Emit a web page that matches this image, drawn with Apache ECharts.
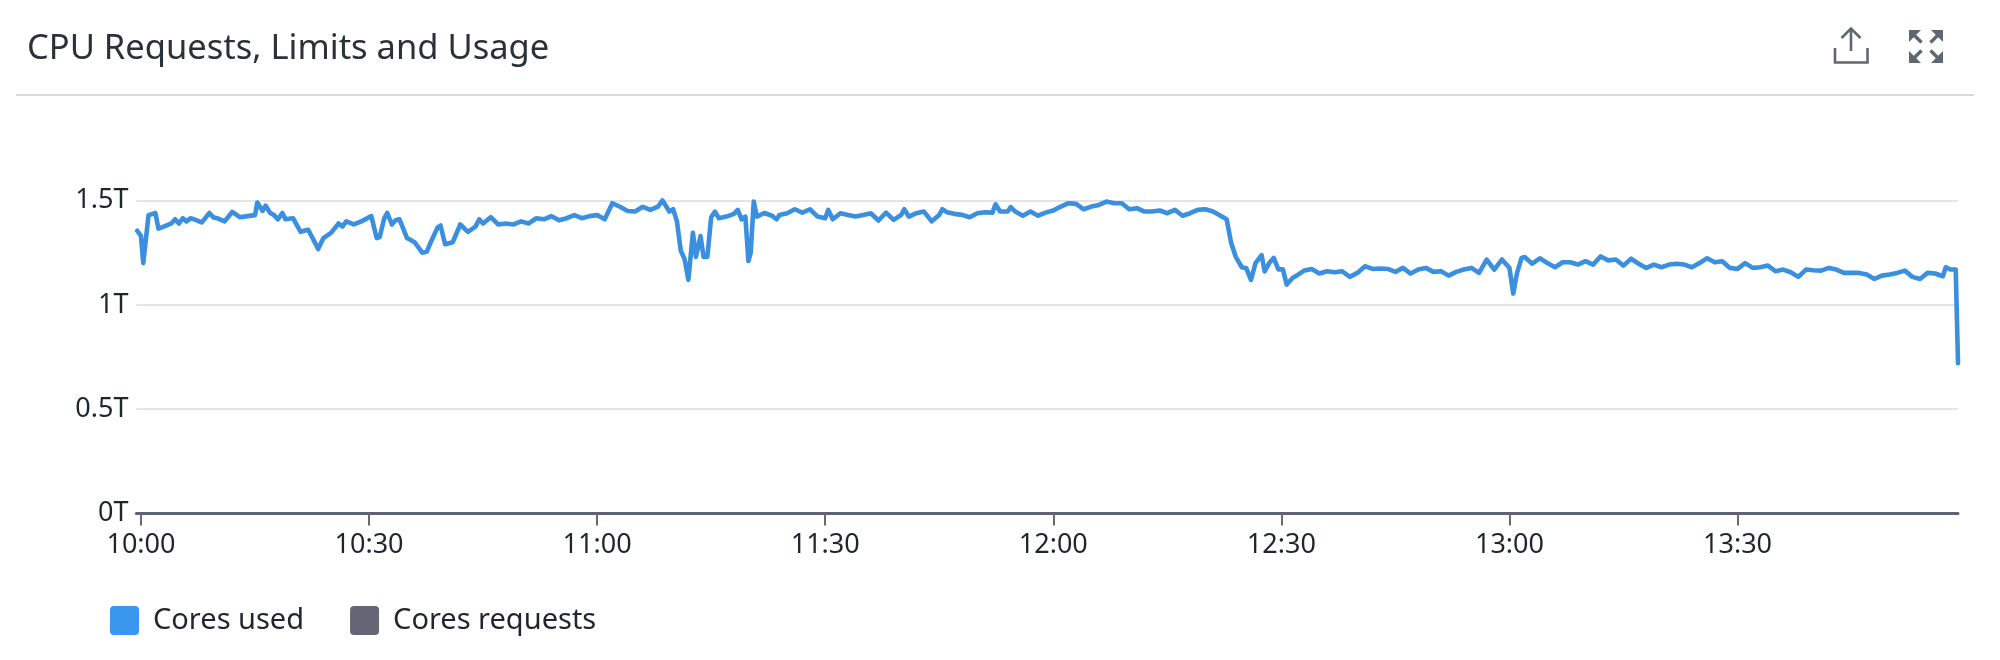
<!DOCTYPE html>
<html><head><meta charset="utf-8">
<style>html,body{margin:0;padding:0;background:#fff}#c{width:2000px;height:660px}</style>
<script src="https://cdn.jsdelivr.net/npm/echarts@6/dist/echarts.min.js"></script>
</head><body><div id="c"></div>
<script>
// [minutes after 10:00, cores used in T]
const coresUsed = [
[-0.5,1.355],[0,1.33],[0.3,1.2],[1,1.43],[1.9,1.44],[2.3,1.365],[3,1.375],[4,1.39],[4.5,1.41],[5,1.39],[5.5,1.415],[6,1.40],[6.5,1.415],[7,1.41],[8,1.395],[9,1.44],[9.5,1.42],[10,1.415],[11,1.40],[12,1.445],[13,1.42],[14,1.425],[15,1.43],[15.3,1.49],[16,1.45],[16.4,1.475],[17,1.44],[17.5,1.43],[18,1.41],[18.6,1.44],[19,1.41],[20,1.415],
[21,1.35],[22,1.36],[23,1.29],[23.3,1.267],[24,1.32],[25,1.345],[26,1.39],[26.5,1.375],[27,1.40],[28,1.385],[29,1.40],[30,1.42],[30.3,1.425],[31,1.32],[31.4,1.325],[32,1.415],[32.4,1.44],[33,1.385],[33.5,1.405],[34,1.41],[35,1.32],[36,1.30],[37,1.25],[37.6,1.255],[38,1.29],[39,1.37],[39.4,1.38],[40,1.29],[41,1.30],[42,1.385],[43,1.35],[44,1.375],[44.5,1.41],[45,1.39],[46,1.42],[47,1.385],[48,1.39],[49,1.385],[50,1.40],[51,1.39],
[52,1.415],[53,1.41],[54,1.425],[55,1.405],[56,1.415],[57,1.43],[58,1.415],[59,1.425],[60,1.43],[61,1.41],[62,1.487],[63,1.47],[64,1.45],[65,1.447],[66,1.47],[67,1.455],[68,1.471],[68.6,1.50],[69.5,1.447],[70,1.458],[70.5,1.40],[71,1.26],[71.5,1.22],[72,1.12],[72.6,1.345],[73,1.23],[73.6,1.33],[74,1.23],[74.5,1.23],[75,1.42],[75.5,1.447],[76,1.415],[77,1.423],[78,1.436],[78.5,1.455],[79,1.41],[79.5,1.423],[79.9,1.21],[80.2,1.25],[80.6,1.495],
[81,1.423],[82,1.44],[83,1.427],[83.6,1.41],[84,1.431],[85,1.439],[86,1.458],[87,1.442],[88,1.458],[89,1.423],[90,1.415],[90.4,1.455],[91,1.41],[92,1.439],[93,1.431],[94,1.423],[95,1.431],[96,1.439],[97,1.404],[98,1.442],[99,1.407],[100,1.431],[100.4,1.458],[101,1.423],[102,1.439],[103,1.447],[104,1.40],[105,1.431],[105.4,1.458],[106,1.444],[107,1.436],[108,1.431],[109,1.42],[110,1.439],[111,1.444],[112,1.442],[112.4,1.482],[113,1.447],[114,1.447],[114.4,1.468],[115,1.447],[116,1.427],[117,1.447],[118,1.427],[119,1.442],[120,1.452],[121,1.471],[122,1.487],[123,1.484],[124,1.458],[125,1.471],[126,1.479],[127,1.495],[128,1.487],[129,1.487],[130,1.458],[131,1.463],[132,1.447],[133,1.447],[134,1.452],[135,1.439],[136,1.455],[137,1.427],[138,1.439],[139,1.455],[140,1.458],[141,1.447],[142,1.427],[142.8,1.41],[143.4,1.296],
[144,1.23],[144.8,1.18],[145.4,1.175],[146,1.12],[146.6,1.2],[147.4,1.238],[147.8,1.16],[148.4,1.2],[149,1.225],[149.6,1.17],[150.2,1.17],[150.7,1.097],[151.5,1.13],[152,1.14],[153,1.164],[154,1.172],[155,1.15],[156,1.161],[157,1.156],[158,1.161],[159,1.134],[160,1.153],[161,1.185],[162,1.172],[163,1.174],[164,1.172],[165,1.158],[166,1.177],[167,1.15],[168,1.169],[169,1.177],[170,1.158],[171,1.161],[172,1.14],[173,1.158],[174,1.169],[175,1.177],[176,1.153],[177,1.217],[178,1.169],[179,1.217],[180,1.177],[180.5,1.054],[181,1.153],[181.6,1.225],[182,1.229],[183,1.197],[184,1.223],[185,1.2],[186,1.18],[187,1.204],[188,1.204],[189,1.193],[190,1.209],[191,1.193],[192,1.232],[193,1.213],[194,1.217],[195,1.188],[196,1.221],[197,1.197],[198,1.177],[199,1.193],[200,1.18],[201,1.193],[202,1.197],[203,1.193],[204,1.18],[205,1.2],[206,1.223],[207,1.204],[208,1.209],[209,1.177],[210,1.172],[211,1.2],[212,1.177],[213,1.18],[214,1.188],[215,1.161],[216,1.169],[217,1.156],[218,1.134],[219,1.169],[220,1.166],[221,1.164],[222,1.177],[223,1.169],[224,1.153],[225,1.153],[226,1.153],[227,1.145],[228,1.124],[229,1.14],[230,1.145],[231,1.153],[232,1.164],[233,1.134],[234,1.124],[235,1.153],[236,1.15],[237,1.137],[237.4,1.18],[238,1.169],[238.7,1.169],[239,0.72]
];
const coresRequests = [];
const seriesNames = ['Cores used','Cores requests'];
const xTickValues = [0,30,60,90,120,150,180,210];
const xTickLabels = ['10:00','10:30','11:00','11:30','12:00','12:30','13:00','13:30'];
const yTickValues = [0,0.5,1,1.5];
const yTickLabels = ['0T','0.5T','1T','1.5T'];
const chartTitle = 'CPU Requests, Limits and Usage';

const FONT = '"Noto Sans"';
const ICON = '#5f6870';
const SWATCH = 'path://M4 0H25A4 4 0 0 1 29 4V25A4 4 0 0 1 25 29H4A4 4 0 0 1 0 25V4A4 4 0 0 1 4 0Z';
const chart = echarts.init(document.getElementById('c'), null, {renderer:'canvas'});
const poly = (points, w=2.6, c=ICON) => ({type:'polyline', shape:{points}, style:{stroke:c, lineWidth:w, fill:null}, silent:true});
const tri = (points) => ({type:'polygon', shape:{points}, style:{fill:ICON}, silent:true});
chart.setOption({
  animation:false,
  backgroundColor:'#fff',
  title:{text:chartTitle, left:22, top:27, textStyle:{fontFamily:FONT, fontWeight:400, fontSize:34.5, color:'#2a3138'}},
  legend:{
    left:105, top:601, itemWidth:29, itemHeight:29, itemGap:46, icon:SWATCH,
    data:seriesNames,
    textStyle:{fontFamily:FONT, fontSize:29, color:'#1f2630', padding:[0,0,0,9]}
  },
  grid:{left:136.4, right:42, top:200.5, bottom:146.5},
  xAxis:{
    type:'value', min:-0.6, max:239,
    splitLine:{show:false},
    axisLine:{show:true, lineStyle:{color:'#5f6274', width:3}},
    axisTick:{show:true, length:12, customValues:xTickValues, lineStyle:{color:'#666a76', width:2}},
    axisLabel:{show:true, customValues:xTickValues, margin:18, fontFamily:FONT, fontSize:27, color:'#1f2630',
      formatter:(v)=>xTickLabels[xTickValues.indexOf(v)]}
  },
  yAxis:{
    type:'value', min:0, max:1.5, interval:0.5,
    axisLine:{show:false}, axisTick:{show:false},
    splitLine:{show:true, lineStyle:{color:'#d9dcdf', width:1.5}},
    axisLabel:{margin:8, fontFamily:FONT, fontSize:27, color:'#1f2630', padding:[9,0,0,0],
      formatter:(v)=>yTickLabels[yTickValues.indexOf(v)]}
  },
  series:[
    {name:seriesNames[0], type:'line', showSymbol:false, clip:false, smooth:false,
     data:coresUsed,
     lineStyle:{color:'#3a8fdf', width:4.6, join:'round', cap:'round'},
     itemStyle:{color:'#3a97ee'}, z:5},
    {name:seriesNames[1], type:'line', showSymbol:false, data:coresRequests,
     lineStyle:{color:'#666573'}, itemStyle:{color:'#666573'}}
  ],
  graphic:[
    {type:'line', shape:{x1:16,y1:95,x2:1974,y2:95}, style:{stroke:'#c9ced6', lineWidth:1.5}, silent:true},
    poly([[1835,48],[1835,62.5],[1867.5,62.5],[1867.5,48]]),
    poly([[1851,51],[1851,29]]),
    poly([[1841.5,38],[1851,28.5],[1860.5,38]]),
    tri([[1909,30],[1921,30],[1909,42]]),
    poly([[1911,32],[1921.5,42.5]],3.4),
    tri([[1943,30],[1931,30],[1943,42]]),
    poly([[1941,32],[1930.5,42.5]],3.4),
    tri([[1909,63],[1921,63],[1909,51]]),
    poly([[1911,61],[1921.5,50.5]],3.4),
    tri([[1943,63],[1931,63],[1943,51]]),
    poly([[1941,61],[1930.5,50.5]],3.4)
  ]
});
</script></body></html>
